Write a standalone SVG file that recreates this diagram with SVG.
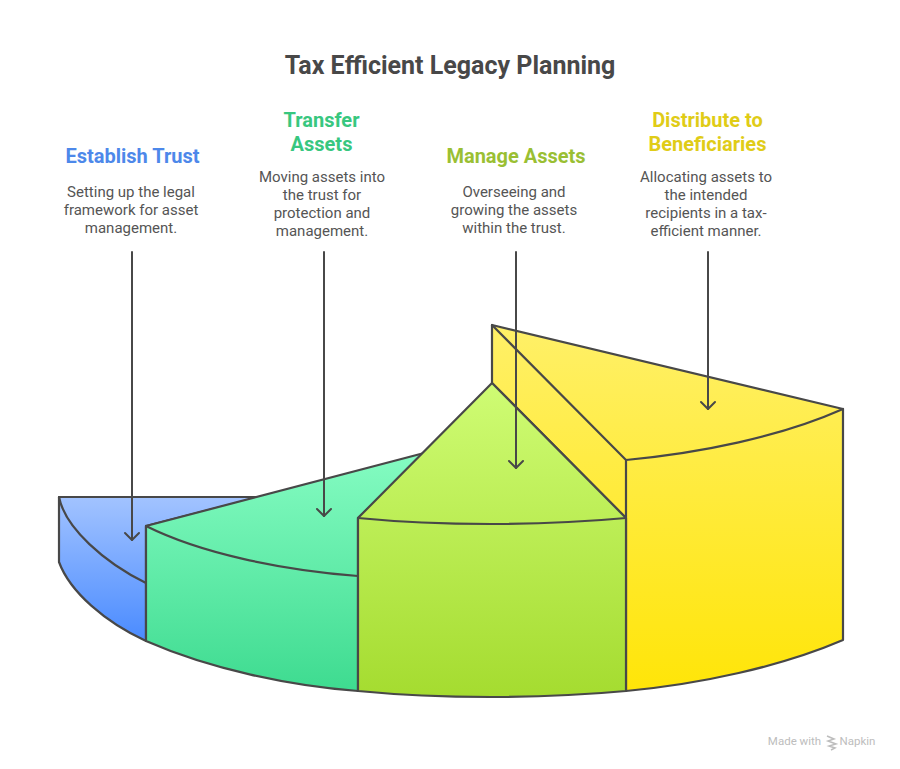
<svg xmlns="http://www.w3.org/2000/svg" width="900" height="769" viewBox="0 0 900 769">
<style>
text{font-family:Roboto,"Liberation Sans",sans-serif;text-anchor:middle}
.t{font-size:25px;font-weight:700;fill:#484848}
.h{font-size:20px;font-weight:700}
.d{font-size:15px;fill:#555}
.w{font-size:11.5px;fill:#bdbdbd}
.s{stroke:#484848;stroke-width:2.2;stroke-linejoin:round;stroke-linecap:round}
.c{fill:none;stroke:#484848;stroke-width:2;stroke-linecap:round}
</style>
<defs>
<linearGradient id="gb" gradientUnits="userSpaceOnUse" x1="0" y1="497" x2="0" y2="641"><stop offset="0" stop-color="#A2C3FF"/><stop offset="1" stop-color="#4A8BFF"/></linearGradient>
<linearGradient id="gg" gradientUnits="userSpaceOnUse" x1="0" y1="452" x2="0" y2="691"><stop offset="0" stop-color="#85FCC2"/><stop offset="1" stop-color="#3EDB90"/></linearGradient>
<linearGradient id="gl" gradientUnits="userSpaceOnUse" x1="0" y1="383" x2="0" y2="695"><stop offset="0" stop-color="#CFFC74"/><stop offset="1" stop-color="#A5DC30"/></linearGradient>
<linearGradient id="gy" gradientUnits="userSpaceOnUse" x1="0" y1="325" x2="0" y2="691"><stop offset="0" stop-color="#FFF068"/><stop offset="1" stop-color="#FFE508"/></linearGradient>
<marker id="ah" markerUnits="userSpaceOnUse" markerWidth="20" markerHeight="20" refX="10" refY="10" orient="auto" viewBox="0 0 20 20" overflow="visible"><path d="M3,3 L10,10 L3,17" fill="none" stroke="#484848" stroke-width="2" stroke-linecap="round" stroke-linejoin="round"/></marker>
</defs>
<rect width="900" height="769" fill="#fff"/>
<text class="t" x="450" y="74">Tax Efficient Legacy Planning</text>
<g id="node-establish">
<path class="s" fill="url(#gb)" d="M59,497 H260 L146,526 V641 C105,622 70,592 59,562 Z"/>
<path class="s" fill="none" d="M59,497 C65,528 105,563 146,583"/>
<text class="h" x="132.500" y="163" fill="#4D88EA">Establish Trust</text>
<text class="d" x="131" y="197">Setting up the legal</text>
<text class="d" x="131" y="215">framework for asset</text>
<text class="d" x="131" y="233">management.</text>
</g>
<g id="node-transfer">
<path class="s" fill="url(#gg)" d="M146,526 L428,452 L358,518 V691 C290,686 210,669 146,641 Z"/>
<path class="s" fill="none" d="M146,526 C200,553 280,570 358,576"/>
<text class="h" x="321.500" y="127" fill="#38C77F">Transfer</text>
<text class="h" x="321.500" y="151" fill="#38C77F">Assets</text>
<text class="d" x="322" y="182">Moving assets into</text>
<text class="d" x="322" y="200">the trust for</text>
<text class="d" x="322" y="218">protection and</text>
<text class="d" x="322" y="236">management.</text>
</g>
<g id="node-distribute">
<path class="s" fill="url(#gy)" d="M492,325 L843,409 V640 C780,667 700,684 626,691 V518 L492,383 Z"/>
<path class="s" fill="none" d="M492,325 L626,460 V518 M626,460 C700,453 780,437 843,409"/>
<text class="h" x="707.500" y="127" fill="#E0CC17">Distribute to</text>
<text class="h" x="707.500" y="151" fill="#E0CC17">Beneficiaries</text>
<text class="d" x="706" y="182">Allocating assets to</text>
<text class="d" x="706" y="200">the intended</text>
<text class="d" x="706" y="218">recipients in a tax-</text>
<text class="d" x="706" y="236">efficient manner.</text>
</g>
<g id="node-manage">
<path class="s" fill="url(#gl)" d="M492,383 L626,518 V691 C540,699 440,699 358,691 V518 Z"/>
<path class="s" fill="none" d="M358,518 C440,526 540,526 626,518"/>
<text class="h" x="516" y="163" fill="#9ABF33">Manage Assets</text>
<text class="d" x="514" y="197">Overseeing and</text>
<text class="d" x="514" y="215">growing the assets</text>
<text class="d" x="514" y="233">within the trust.</text>
</g>
<g id="connectors">
<path class="c" marker-end="url(#ah)" d="M132,252 V540"/>
<path class="c" marker-end="url(#ah)" d="M324,252 V516"/>
<path class="c" marker-end="url(#ah)" d="M516,252 V468"/>
<path class="c" marker-end="url(#ah)" d="M708,252 V409"/>
</g>
<g id="watermark">
<text class="w" x="794.500" y="745">Made with</text>
<path d="M827,736 L834,739 L828,741 L836,744 L829,746 L835,748 L831,750" stroke="#bdbdbd" stroke-width="1.5" fill="none"/>
<text class="w" x="857.500" y="745">Napkin</text>
</g>
</svg>
